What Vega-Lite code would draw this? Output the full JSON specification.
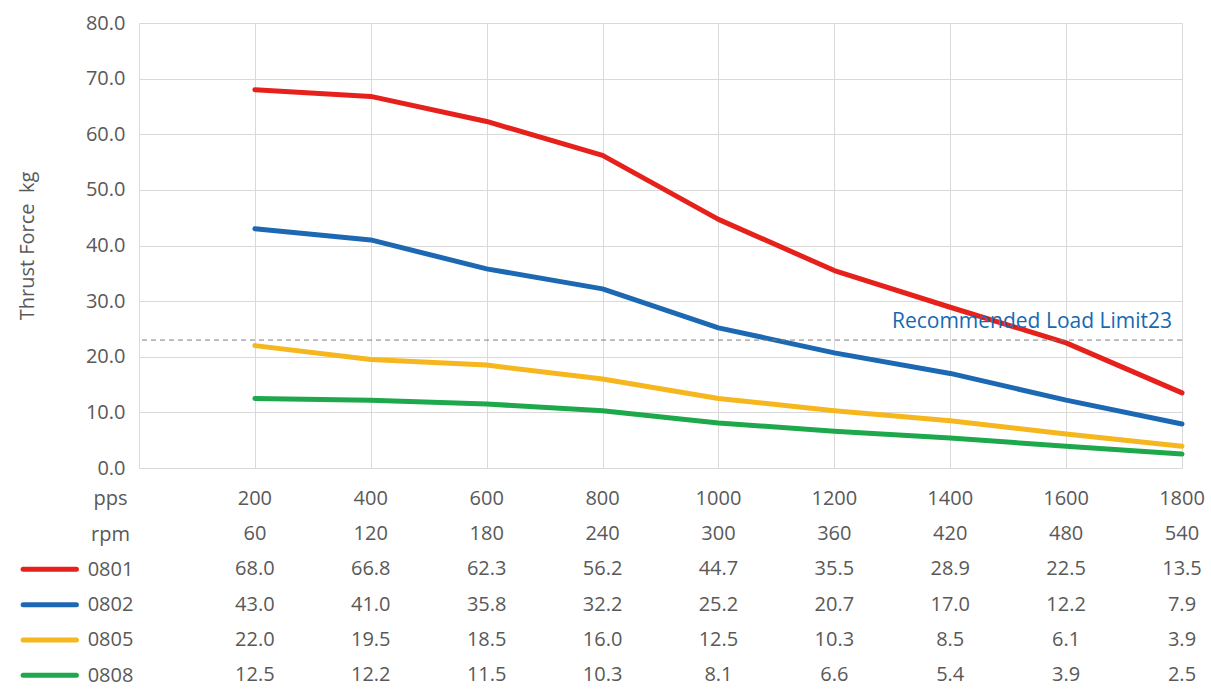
{
  "$schema": "https://vega.github.io/schema/vega-lite/v6.json",
  "padding": {"top": 13, "left": 17, "right": 5, "bottom": 0},
  "config": {
    "font": "Open Sans",
    "view": {"stroke": null},
    "concat": {"spacing": 10},
    "axis": {"labelColor": "#595959", "labelFontSize": 20, "titleColor": "#595959", "titleFontSize": 20, "titleFontWeight": "normal", "gridColor": "#d9d9d9", "gridWidth": 1}
  },
  "datasets": {
    "series": [
      {"series": "0801", "pps": 200, "value": 68.0},
      {"series": "0801", "pps": 400, "value": 66.8},
      {"series": "0801", "pps": 600, "value": 62.3},
      {"series": "0801", "pps": 800, "value": 56.2},
      {"series": "0801", "pps": 1000, "value": 44.7},
      {"series": "0801", "pps": 1200, "value": 35.5},
      {"series": "0801", "pps": 1400, "value": 28.9},
      {"series": "0801", "pps": 1600, "value": 22.5},
      {"series": "0801", "pps": 1800, "value": 13.5},
      {"series": "0802", "pps": 200, "value": 43.0},
      {"series": "0802", "pps": 400, "value": 41.0},
      {"series": "0802", "pps": 600, "value": 35.8},
      {"series": "0802", "pps": 800, "value": 32.2},
      {"series": "0802", "pps": 1000, "value": 25.2},
      {"series": "0802", "pps": 1200, "value": 20.7},
      {"series": "0802", "pps": 1400, "value": 17.0},
      {"series": "0802", "pps": 1600, "value": 12.2},
      {"series": "0802", "pps": 1800, "value": 7.9},
      {"series": "0805", "pps": 200, "value": 22.0},
      {"series": "0805", "pps": 400, "value": 19.5},
      {"series": "0805", "pps": 600, "value": 18.5},
      {"series": "0805", "pps": 800, "value": 16.0},
      {"series": "0805", "pps": 1000, "value": 12.5},
      {"series": "0805", "pps": 1200, "value": 10.3},
      {"series": "0805", "pps": 1400, "value": 8.5},
      {"series": "0805", "pps": 1600, "value": 6.1},
      {"series": "0805", "pps": 1800, "value": 3.9},
      {"series": "0808", "pps": 200, "value": 12.5},
      {"series": "0808", "pps": 400, "value": 12.2},
      {"series": "0808", "pps": 600, "value": 11.5},
      {"series": "0808", "pps": 800, "value": 10.3},
      {"series": "0808", "pps": 1000, "value": 8.1},
      {"series": "0808", "pps": 1200, "value": 6.6},
      {"series": "0808", "pps": 1400, "value": 5.4},
      {"series": "0808", "pps": 1600, "value": 3.9},
      {"series": "0808", "pps": 1800, "value": 2.5}
    ],
    "header": [
      {"pps": 200, "rpm": 60},
      {"pps": 400, "rpm": 120},
      {"pps": 600, "rpm": 180},
      {"pps": 800, "rpm": 240},
      {"pps": 1000, "rpm": 300},
      {"pps": 1200, "rpm": 360},
      {"pps": 1400, "rpm": 420},
      {"pps": 1600, "rpm": 480},
      {"pps": 1800, "rpm": 540}
    ],
    "legend": [
      {"series": "0801"},
      {"series": "0802"},
      {"series": "0805"},
      {"series": "0808"}
    ],
    "limit": [
      {"limit": 23, "label": "Recommended Load Limit23"}
    ]
  },
  "vconcat": [
    {
      "width": 1043,
      "height": 445,
      "layer": [
        {
          "data": {"name": "series"},
          "mark": {"type": "line", "strokeWidth": 5, "strokeCap": "round", "strokeJoin": "round"},
          "encoding": {
            "x": {"field": "pps", "type": "quantitative", "scale": {"domain": [0, 1800], "nice": false},
              "axis": {"values": [0, 200, 400, 600, 800, 1000, 1200, 1400, 1600, 1800], "labels": false, "ticks": false, "domain": false, "grid": true, "title": null}},
            "y": {"field": "value", "type": "quantitative", "scale": {"domain": [0, 80], "nice": false},
              "axis": {"values": [0, 10, 20, 30, 40, 50, 60, 70, 80], "format": ".1f", "ticks": false, "tickSize": 0, "domain": false, "grid": true, "labelPadding": 14, "title": "Thrust Force\u00a0 kg", "titlePadding": 48}},
            "color": {"field": "series", "type": "nominal", "scale": {"domain": ["0801", "0802", "0805", "0808"], "range": ["#e6211c", "#1c68b3", "#f6b61d", "#1ea84c"]}, "legend": null}
          }
        },
        {
          "data": {"name": "limit"},
          "mark": {"type": "rule", "stroke": "#7f7f7f", "strokeWidth": 1, "strokeDash": [5, 4]},
          "encoding": {"y": {"field": "limit", "type": "quantitative"}}
        },
        {
          "data": {"name": "limit"},
          "mark": {"type": "text", "align": "right", "baseline": "alphabetic", "dx": -10, "dy": -12, "fontSize": 21, "color": "#1569b4"},
          "encoding": {
            "x": {"datum": 1800, "type": "quantitative"},
            "y": {"field": "limit", "type": "quantitative"},
            "text": {"field": "label"}
          }
        }
      ]
    },
    {
      "width": 1043,
      "height": 194,
      "layer": [
        {
          "data": {"name": "header"},
          "transform": [{"fold": ["pps", "rpm"], "as": ["row", "num"]}],
          "mark": {"type": "text", "fontSize": 20, "color": "#595959", "align": "center", "baseline": "middle"},
          "encoding": {
            "x": {"field": "pps", "type": "quantitative", "scale": {"domain": [0, 1800], "nice": false}, "axis": null},
            "y": {"field": "row", "type": "nominal"},
            "text": {"field": "num", "type": "quantitative", "format": "d"}
          }
        },
        {
          "data": {"name": "series"},
          "mark": {"type": "text", "fontSize": 20, "color": "#595959", "align": "center", "baseline": "middle"},
          "encoding": {
            "x": {"field": "pps", "type": "quantitative"},
            "y": {"field": "series", "type": "nominal"},
            "text": {"field": "value", "type": "quantitative", "format": ".1f"}
          }
        },
        {
          "data": {"name": "legend"},
          "mark": {"type": "rule", "strokeWidth": 5, "strokeCap": "round"},
          "encoding": {
            "x": {"datum": -200, "type": "quantitative"},
            "x2": {"datum": -108},
            "y": {"field": "series", "type": "nominal"},
            "color": {"field": "series", "type": "nominal", "scale": {"domain": ["0801", "0802", "0805", "0808"], "range": ["#e6211c", "#1c68b3", "#f6b61d", "#1ea84c"]}, "legend": null}
          }
        }
      ],
      "encoding": {
        "y": {"scale": {"type": "point", "padding": 0.25, "domain": ["pps", "rpm", "0801", "0802", "0805", "0808"]},
          "axis": {"ticks": false, "tickSize": 0, "domain": false, "grid": false, "labelAlign": "center", "labelPadding": 29, "title": null}}
      }
    }
  ]
}
